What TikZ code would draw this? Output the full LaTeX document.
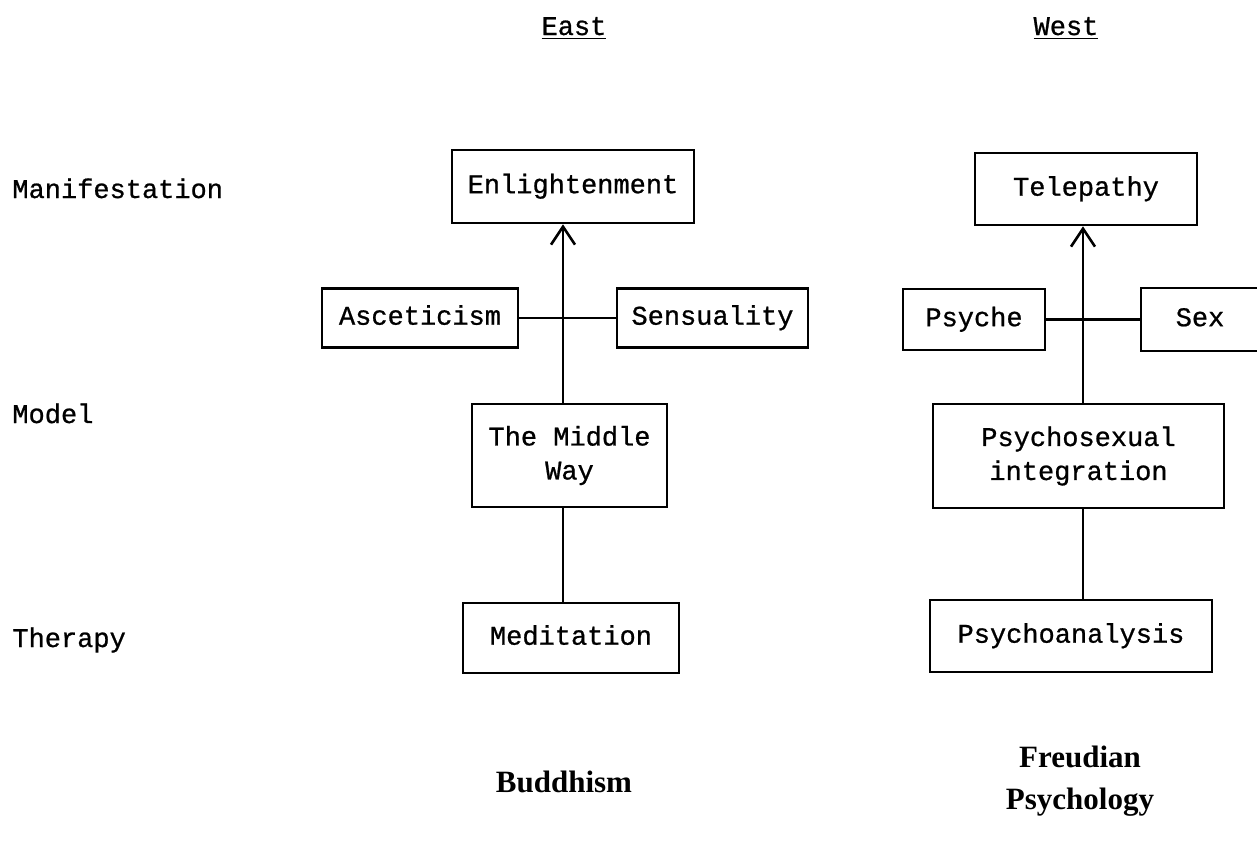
\documentclass[tikz,border=0pt]{standalone}
\usepackage{fontspec}
\setmainfont{Liberation Serif}
\newfontfamily\tw[FakeBold=0.8]{Liberation Mono}
\usetikzlibrary{arrows.meta}
\begin{document}
\begin{tikzpicture}[x=0.5pt,y=-0.5pt,
  tt/.style={font=\tw\fontsize{13.5}{17}\selectfont},
  boxbase/.style={draw, line width=1.3pt, tt, align=center, inner sep=0pt},
  box/.style={boxbase, text height=9.5pt, text depth=2.8pt},
  box2/.style={boxbase},
  lbl/.style={tt, anchor=base west, inner sep=0pt},
  conn/.style={line width=1.3pt},
  arr/.style={conn, -{Straight Barb[length=9pt,width=12pt,line width=1.3pt]}},
  head/.style={font=\bfseries\fontsize{15.5}{21}\selectfont, align=center, inner sep=0pt}]
\useasboundingbox (0,0) rectangle (1257,852);

% column headings
\node[tt, anchor=base, inner sep=0pt] (east) at (574,35) {\underline{East}};
\node[tt, anchor=base, inner sep=0pt] (west) at (1066,35) {\underline{West}};

% row labels
\node[lbl] (lman) at (12,198) {Manifestation};
\node[lbl] (lmod) at (12,423) {Model};
\node[lbl] (lthe) at (12,647) {Therapy};

% East column
\node[box, minimum width=121pt, minimum height=36.5pt] (enl) at (573,186.5) {Enlightenment};
\node[box, minimum width=98pt, minimum height=29.5pt] (asc) at (420,318) {Asceticism};
\node[box, minimum width=95.5pt, minimum height=29.5pt] (sen) at (712.5,318) {Sensuality};
\node[box2, minimum width=97.5pt, minimum height=51.5pt] (mid) at (569.5,455.5) {The Middle\\Way};
\node[box, minimum width=108pt, minimum height=35pt] (med) at (571,638) {Meditation};
\coordinate (eaxis) at (563,0);

% West column
\node[box, minimum width=111pt, minimum height=36pt] (tel) at (1086,189) {Telepathy};
\node[box, minimum width=71pt, minimum height=30.5pt] (psy) at (974,319.5) {Psyche};
\node[box, minimum width=59pt, minimum height=31.5pt] (sex) at (1200,319.5) {Sex};
\node[box2, minimum width=145.5pt, minimum height=52pt] (psx) at (1078.5,456) {Psychosexual\\integration};
\node[box, minimum width=141pt, minimum height=36pt] (pan) at (1071,636) {Psychoanalysis};
\coordinate (waxis) at (1083,0);

% connectors East
\draw[arr] (mid.north -| eaxis) -- (enl.south -| eaxis);
\draw[conn] (asc.east) -- (sen.west);
\draw[conn] (mid.south -| eaxis) -- (med.north -| eaxis);

% connectors West
\draw[arr] (psx.north -| waxis) -- (tel.south -| waxis);
\draw[conn] (psy.east) -- (sex.west);
\draw[conn] (psx.south -| waxis) -- (pan.north -| waxis);

% bottom labels
\node[head] (bud) at (564,782) {Buddhism};
\node[head] (fre) at (1080,781) {Freudian\\Psychology};
\end{tikzpicture}
\end{document}
